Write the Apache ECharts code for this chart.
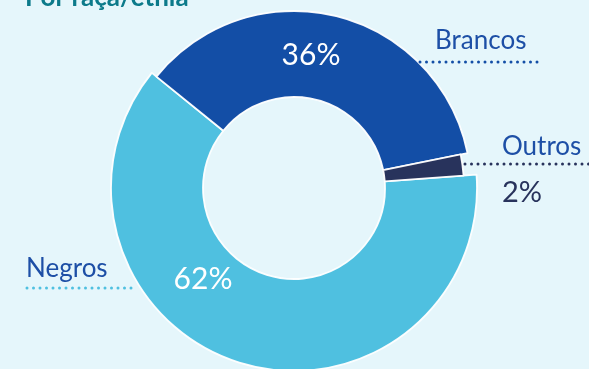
<!DOCTYPE html>
<html><head><meta charset="utf-8">
<script src="https://cdn.jsdelivr.net/npm/echarts@6/dist/echarts.min.js"></script>
<style>html,body{margin:0;padding:0;background:#e5f6fb}#c{width:589px;height:369px}</style>
</head><body><div id="c"></div>
<script>
const titleText = 'Por raça/etnia';
const categories = ['Brancos', 'Outros', 'Negros'];
const values = [36, 2, 62];
const pctLabels = ['36%', '2%', '62%'];

const sliceColors = ['#134ea6', '#28335c', '#4fc0e0'];
const outerRadii = [177, 170, 183];
const FONT = 'Lato, "Noto Sans", sans-serif';

const chart = echarts.init(document.getElementById('c'), null, {renderer: 'canvas'});

const order = [2, 0, 1];
const series = order.map(function (k) {
  return {
    type: 'pie',
    center: [294, 188],
    radius: [91, outerRadii[k]],
    startAngle: 141,
    clockwise: true,
    silent: true,
    animation: false,
    label: {show: false},
    labelLine: {show: false},
    data: categories.map(function (c, i) {
      return {
        name: c,
        value: values[i],
        itemStyle: i === k
          ? {color: sliceColors[i], borderColor: 'rgba(255,255,255,0.95)', borderWidth: 1.8}
          : {color: 'rgba(0,0,0,0)', borderWidth: 0}
      };
    })
  };
});

function dots(x1, x2, y, color) {
  return {
    type: 'line', silent: true, z: 100,
    shape: {x1: x1, y1: y, x2: x2, y2: y},
    style: {stroke: color, lineWidth: 3, lineDash: [0, 6.5], lineCap: 'round'}
  };
}
function txt(x, y, s, size, color, align, weight) {
  return {
    type: 'text', silent: true, x: x, y: y, z: 100,
    style: {text: s, fontSize: size, fontFamily: FONT, fill: color,
      align: align || 'left', verticalAlign: 'middle', fontWeight: weight || 'normal'}
  };
}

chart.setOption({
  backgroundColor: '#e5f6fb',
  series: series,
  graphic: {
    elements: [
      txt(25, -2, titleText, 26, '#0c7a8a', 'left', 'bold'),
      txt(311, 55, pctLabels[0], 30, '#ffffff', 'center'),
      txt(203, 279, pctLabels[2], 30, '#ffffff', 'center'),
      txt(522, 193, pctLabels[1], 29, '#28335c', 'center'),
      txt(435, 41, categories[0], 26, '#1d4fa6', 'left'),
      txt(502, 147, categories[1], 26, '#1d4fa6', 'left'),
      txt(26, 269, categories[2], 26, '#1d4fa6', 'left'),
      dots(420, 542, 62, '#134ea6'),
      dots(465, 592, 164, '#28335c'),
      dots(27, 137, 288, '#4fc0e0')
    ]
  }
});
</script></body></html>
